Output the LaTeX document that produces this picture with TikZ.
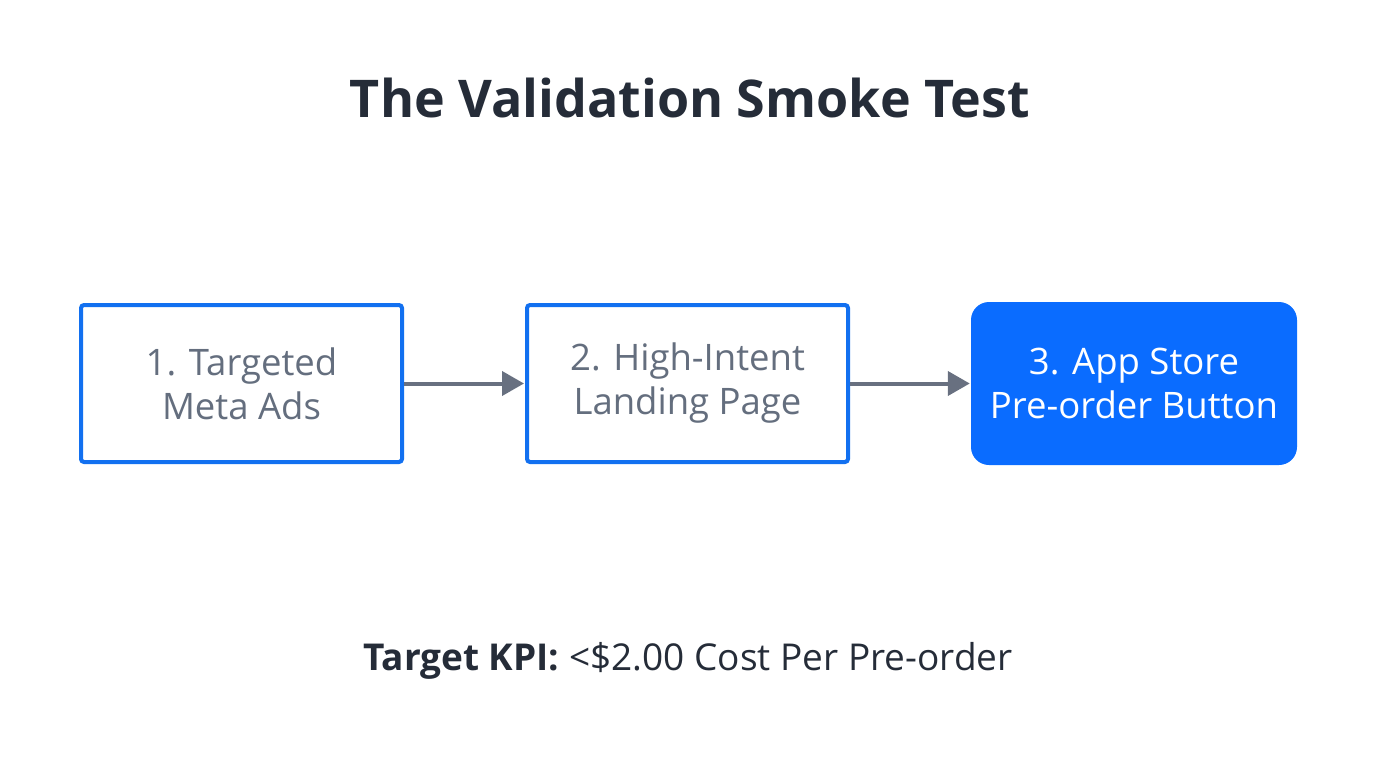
\documentclass[tikz,border=0pt]{standalone}
\usepackage{fontspec}
\setmainfont{Open Sans}
\usetikzlibrary{arrows.meta}
\definecolor{blueA}{RGB}{18,112,240}
\definecolor{blueF}{RGB}{10,108,255}
\definecolor{grayT}{RGB}{100,110,126}
\definecolor{grayA}{RGB}{104,112,128}
\definecolor{darkT}{RGB}{37,44,56}
\begin{document}
\begin{tikzpicture}[x=1pt,y=-1pt,
  stepbox/.style={draw=blueA,line width=4pt,fill=white,rounded corners=3pt,minimum width=321pt,minimum height=157pt,text=grayT,font=\fontsize{36.5}{44}\selectfont,align=center,inner sep=0pt},
  finalbox/.style={fill=blueF,rounded corners=18pt,minimum width=326pt,minimum height=163pt,text=white,font=\fontsize{36.5}{44}\selectfont,align=center,inner sep=0pt},
  flow/.style={draw=grayA,line width=4pt,-{Triangle[length=22pt,width=24pt]},shorten >=1pt}]
\useasboundingbox (0,0) rectangle (1376,768);
\node[font=\bfseries\fontsize{52}{62}\selectfont,text=darkT] (title) at (690,98) {The Validation Smoke Test};
\node[stepbox] (s1) at (241.5,383.5) {1. Targeted\\Meta Ads};
\node[stepbox] (s2) at (687.5,383.5) {2. High-Intent\\Landing Page};
\node[finalbox] (s3) at (1134,383.5) {3. App Store\\Pre-order Button};
\draw[flow] (s1.east) -- (s2.west);
\draw[flow] (s2.east) -- (s3.west);
\node[font=\fontsize{37}{44}\selectfont,text=darkT] (kpi) at (688,661) {\textbf{Target KPI:} <\$2.00 Cost Per Pre-order};
\end{tikzpicture}
\end{document}
